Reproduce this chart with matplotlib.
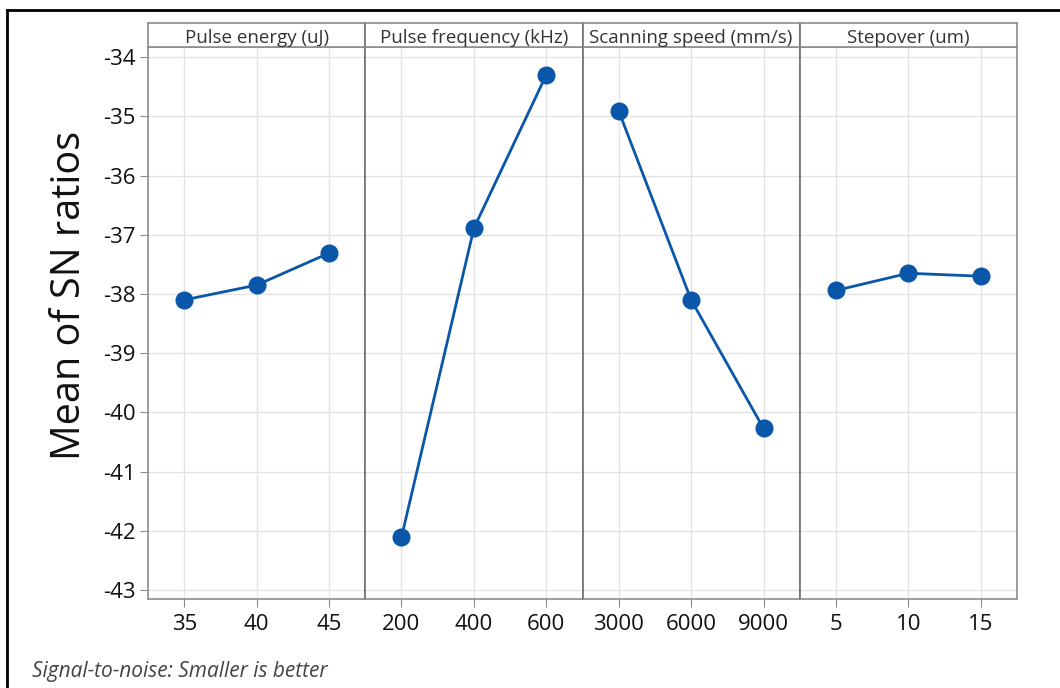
import matplotlib
matplotlib.use("Agg")
import matplotlib.pyplot as plt
from matplotlib.lines import Line2D

plt.rcParams["font.family"] = ["Open Sans", "DejaVu Sans"]

factors = ["Pulse energy (uJ)", "Pulse frequency (kHz)", "Scanning speed (mm/s)", "Stepover (um)"]
levels = [
    ["35", "40", "45"],
    ["200", "400", "600"],
    ["3000", "6000", "9000"],
    ["5", "10", "15"],
]
sn_means = [
    [-38.10, -37.85, -37.31],
    [-42.11, -36.89, -34.30],
    [-34.91, -38.10, -40.27],
    [-37.94, -37.65, -37.70],
]
y_ticks = [-34, -35, -36, -37, -38, -39, -40, -41, -42, -43]

W, H = 1060, 688
fig = plt.figure(figsize=(W / 100, H / 100), dpi=100)

left, right = 148 / W, 1017 / W
bottom, top = 1 - 599 / H, 1 - 47 / H
strip_h = 24 / H
pw = (right - left) / len(factors)

line_col = "#0a56a8"
frame_col = "#8c8c8c"
grid_col = "#e3e3e3"

for i, (name, labs, vals) in enumerate(zip(factors, levels, sn_means)):
    ax = fig.add_axes([left + i * pw, bottom, pw, top - bottom])
    xs = list(range(1, len(labs) + 1))
    ax.plot(xs, vals, color=line_col, lw=2, marker="o", ms=12,
            mfc=line_col, mec=line_col, zorder=3)
    ax.set_xlim(0.5, 3.5)
    ax.set_ylim(-43.15, -33.83)
    ax.set_xticks(xs)
    ax.set_xticklabels(labs, fontsize=16)
    ax.set_yticks(y_ticks)
    ax.grid(True, color=grid_col, lw=1)
    ax.set_axisbelow(True)
    for s in ax.spines.values():
        s.set_color(frame_col)
        s.set_linewidth(1.2)
    if i > 0:
        ax.spines["left"].set_color("#6e6e6e")
    ax.tick_params(axis="x", length=6, color=frame_col, pad=5, labelcolor="#111111")
    if i == 0:
        ax.set_yticklabels([str(t) for t in y_ticks], fontsize=16)
        ax.tick_params(axis="y", length=6, color=frame_col, pad=3, labelcolor="#111111")
        ax.set_ylabel("Mean of SN ratios", fontsize=28.5, color="#111111")
        ax.yaxis.set_label_coords(-0.268, 0.55)
    else:
        ax.tick_params(axis="y", length=0, labelleft=False)

    sax = fig.add_axes([left + i * pw, top, pw, strip_h])
    sax.set_xticks([])
    sax.set_yticks([])
    for s in sax.spines.values():
        s.set_color(frame_col)
        s.set_linewidth(1.2)
    if i > 0:
        sax.spines["left"].set_color("#6e6e6e")
    sax.text(0.5, 0.38, name, ha="center", va="center", fontsize=13.5,
             color="#333333", transform=sax.transAxes)

fig.text(32 / W, 1 - 671 / H, "Signal-to-noise: Smaller is better",
         fontsize=15, style="italic", color="#444444", ha="left", va="center")

# outer frame (top and left edges)
fig.add_artist(Line2D([7 / W, 1.0], [1 - 10 / H, 1 - 10 / H], color="black", lw=2,
                      transform=fig.transFigure))
fig.add_artist(Line2D([7 / W, 7 / W], [1 - 10 / H, 0.0], color="black", lw=2,
                      transform=fig.transFigure))

fig.savefig("out.png", dpi=100)
